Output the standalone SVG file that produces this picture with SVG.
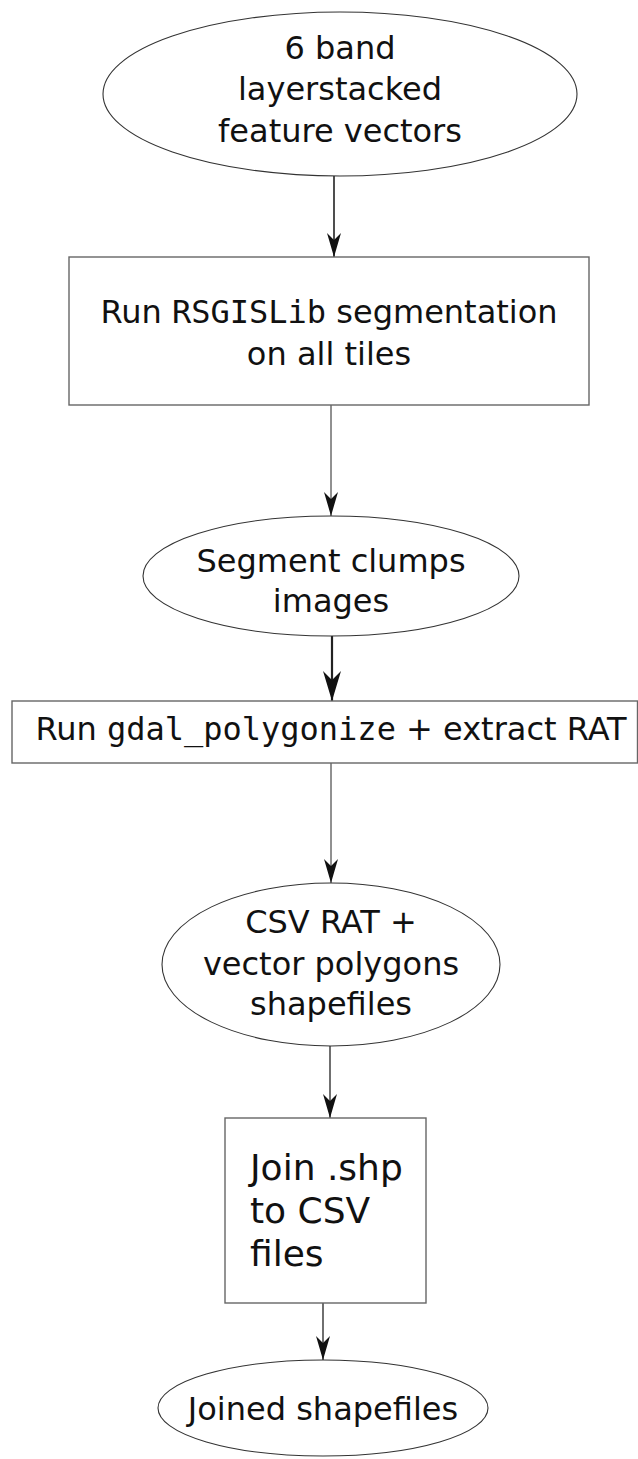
<svg xmlns="http://www.w3.org/2000/svg" width="638" height="1459" viewBox="0 0 638 1459">
<style>
.n{fill:#fff;stroke:#333;stroke-width:1.1}
.b{fill:#fff;stroke:#666;stroke-width:1.4}
.t{font-family:"DejaVu Sans","Liberation Sans",sans-serif;font-size:32px;fill:#111;text-anchor:middle}
.m{font-family:"DejaVu Sans Mono","Liberation Mono",monospace}
.e{fill:none;stroke:#222}
</style>
<defs>
<marker id="arr" viewBox="0 0 24 14" refX="24" refY="7" markerWidth="24" markerHeight="14" markerUnits="userSpaceOnUse" orient="auto">
<path d="M0,0 L24,7 L0,14 L7,7 z" fill="#111"/>
</marker>
<marker id="arrL" viewBox="0 0 30 18" refX="30" refY="9" markerWidth="30" markerHeight="18" markerUnits="userSpaceOnUse" orient="auto">
<path d="M0,0 L30,9 L0,18 L9,9 z" fill="#111"/>
</marker>
</defs>
<g id="connectors">
<line class="e" x1="334" y1="176" x2="334" y2="257" stroke-width="1.6" marker-end="url(#arr)"/>
<line class="e" x1="331" y1="405" x2="331" y2="516" stroke-width="1" marker-end="url(#arr)"/>
<line class="e" x1="332" y1="636" x2="332" y2="701" stroke-width="2.2" marker-end="url(#arrL)"/>
<line class="e" x1="331" y1="763" x2="331" y2="883" stroke-width="1" marker-end="url(#arr)"/>
<line class="e" x1="330" y1="1046" x2="330" y2="1118" stroke-width="1.3" marker-end="url(#arr)"/>
<line class="e" x1="323" y1="1303" x2="323" y2="1360" stroke-width="1.3" marker-end="url(#arr)"/>
</g>
<g id="n1">
<ellipse class="n" cx="340" cy="94" rx="237" ry="82"/>
<text class="t" x="340" y="59">6 band</text>
<text class="t" x="340" y="100">layerstacked</text>
<text class="t" x="340" y="142">feature vectors</text>
</g>
<g id="n2">
<rect class="b" x="69" y="257" width="520" height="148"/>
<text class="t" x="329" y="323">Run <tspan class="m">RSGISLib</tspan> segmentation</text>
<text class="t" x="329" y="365">on all tiles</text>
</g>
<g id="n3">
<ellipse class="n" cx="331" cy="576" rx="188" ry="60"/>
<text class="t" x="331" y="572">Segment clumps</text>
<text class="t" x="331" y="612">images</text>
</g>
<g id="n4">
<rect class="b" x="12" y="701" width="625.5" height="62"/>
<text class="t" x="331" y="740">Run <tspan class="m">gdal_polygonize</tspan> + extract RAT</text>
</g>
<g id="n5">
<ellipse class="n" cx="331" cy="964.5" rx="169" ry="81.5"/>
<text class="t" x="331" y="933">CSV RAT +</text>
<text class="t" x="331" y="975">vector polygons</text>
<text class="t" x="331" y="1015">shapefiles</text>
</g>
<g id="n6">
<rect class="b" x="225" y="1118" width="201" height="185"/>
<text class="t" x="250" y="1180" style="font-size:36px;text-anchor:start">Join .shp</text>
<text class="t" x="250" y="1223" style="font-size:36px;text-anchor:start">to CSV</text>
<text class="t" x="250" y="1266" style="font-size:36px;text-anchor:start">files</text>
</g>
<g id="n7">
<ellipse class="n" cx="323" cy="1408" rx="165" ry="48"/>
<text class="t" x="323" y="1420">Joined shapefiles</text>
</g>
</svg>
